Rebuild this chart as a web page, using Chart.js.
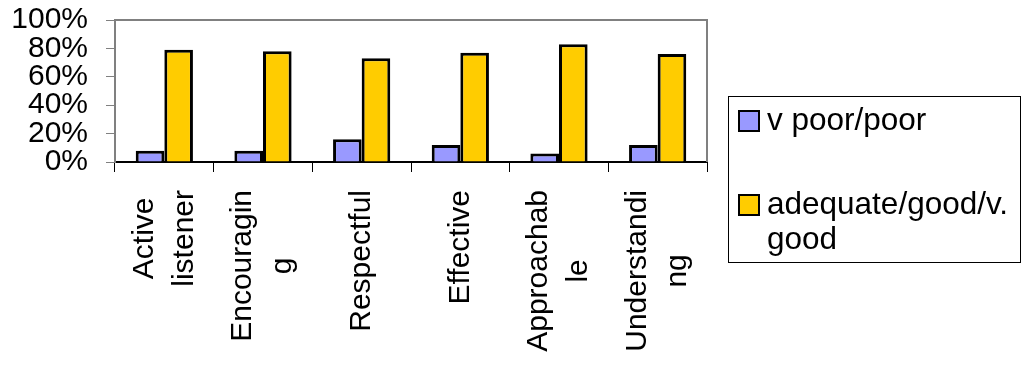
<!DOCTYPE html>
<html>
<head>
<meta charset="utf-8">
<script src="https://cdn.jsdelivr.net/npm/chart.js@4/dist/chart.umd.min.js"></script>
<style>
  body { margin: 0; background: #fff; }
  canvas { display: block; }
</style>
</head>
<body>
<canvas id="ratings" width="1022" height="365"></canvas>
<script>
// category labels, already broken into lines the way they wrap under the axis
const categories = [
  ['Active', 'listener'],
  ['Encouragin', 'g'],
  ['Respectful'],
  ['Effective'],
  ['Approachab', 'le'],
  ['Understandi', 'ng']
];
const seriesNames = ['v poor/poor', 'adequate/good/v. good'];
const legendLines = [['v poor/poor'], ['adequate/good/v.', 'good']];
const poorValues = [8, 8, 16, 12, 6, 12];
const goodValues = [79, 78, 73, 77, 83, 76];
const yTickValues = [0, 20, 40, 60, 80, 100];

const FONT = "'Liberation Sans', Arial, sans-serif";
const barColors = ['#9999FF', '#FFCC00'];

// gray frame on the top and right of the plot area
const plotFrame = {
  id: 'plotFrame',
  beforeDatasetsDraw(chart) {
    const { ctx, chartArea: a } = chart;
    ctx.save();
    ctx.strokeStyle = '#808080';
    ctx.lineWidth = 2;
    ctx.beginPath();
    ctx.moveTo(a.left, a.top);
    ctx.lineTo(a.right, a.top);
    ctx.lineTo(a.right, a.bottom);
    ctx.stroke();
    ctx.restore();
  }
};

// vertical category labels, lines centred on each other
const verticalLabels = {
  id: 'verticalLabels',
  afterDraw(chart) {
    const { ctx, chartArea: a } = chart;
    const xScale = chart.scales.x;
    const lineHeight = 40;
    const top = a.bottom + 28;
    ctx.save();
    ctx.font = '30px ' + FONT;
    ctx.fillStyle = '#000';
    ctx.textAlign = 'center';
    ctx.textBaseline = 'middle';
    categories.forEach((lines, i) => {
      const x = xScale.getPixelForValue(i);
      const widest = Math.max(...lines.map(l => ctx.measureText(l).width));
      const cy = top + widest / 2;
      lines.forEach((line, j) => {
        const lx = x - (lines.length - 1) * lineHeight / 2 + j * lineHeight;
        ctx.save();
        ctx.translate(lx, cy);
        ctx.rotate(-Math.PI / 2);
        ctx.fillText(line, 0, 0);
        ctx.restore();
      });
    });
    ctx.restore();
  }
};

// boxed legend at the right
const boxLegend = {
  id: 'boxLegend',
  afterDraw(chart) {
    const { ctx } = chart;
    const box = { x: 728.5, y: 96.5, w: 292, h: 166 };
    const itemTops = [111, 195];
    ctx.save();
    ctx.strokeStyle = '#000';
    ctx.lineWidth = 1;
    ctx.strokeRect(box.x, box.y, box.w, box.h);
    ctx.font = '31.5px ' + FONT;
    ctx.textBaseline = 'alphabetic';
    ctx.textAlign = 'left';
    chart.data.datasets.forEach((ds, i) => {
      const top = itemTops[i];
      ctx.fillStyle = ds.backgroundColor;
      ctx.fillRect(739, top, 20, 20);
      ctx.lineWidth = 2;
      ctx.strokeStyle = '#000';
      ctx.strokeRect(739, top, 20, 20);
      ctx.fillStyle = '#000';
      legendLines[i].forEach((line, j) => {
        ctx.fillText(line, 767, top + 19 + j * 35);
      });
    });
    ctx.restore();
  }
};

new Chart(document.getElementById('ratings'), {
  type: 'bar',
  data: {
    labels: categories.map(c => c.join('')),
    datasets: [
      {
        label: seriesNames[0],
        data: poorValues,
        backgroundColor: barColors[0],
        borderColor: '#000',
        borderWidth: 3
      },
      {
        label: seriesNames[1],
        data: goodValues,
        backgroundColor: barColors[1],
        borderColor: '#000',
        borderWidth: 3
      }
    ]
  },
  options: {
    responsive: false,
    animation: false,
    devicePixelRatio: 1,
    layout: {
      padding: { top: 0, right: 315, bottom: 0, left: 0 }
    },
    datasets: {
      bar: {
        categoryPercentage: 0.58,
        barPercentage: 1
      }
    },
    plugins: {
      legend: { display: false },
      tooltip: { enabled: false }
    },
    scales: {
      x: {
        grid: {
          display: true,
          drawOnChartArea: false,
          drawTicks: true,
          tickLength: 10,
          color: '#000',
          lineWidth: 1,
          offset: true
        },
        border: { color: '#000', width: 2 },
        ticks: { display: false },
        afterFit(scale) {
          scale.height = 203;
        }
      },
      y: {
        min: 0,
        max: 100,
        afterBuildTicks(scale) {
          scale.ticks = yTickValues.map(v => ({ value: v }));
        },
        ticks: {
          autoSkip: false,
          padding: 18,
          color: '#000',
          font: { family: FONT, size: 30 },
          callback: v => v + '%'
        },
        grid: {
          drawOnChartArea: false,
          tickLength: 9,
          color: '#808080',
          lineWidth: 1
        },
        border: { color: '#808080', width: 2 },
        afterFit(scale) {
          scale.width = 115;
          scale.paddingTop = 20;
          scale.paddingBottom = 0;
        }
      }
    }
  },
  plugins: [plotFrame, verticalLabels, boxLegend]
});
</script>
</body>
</html>
